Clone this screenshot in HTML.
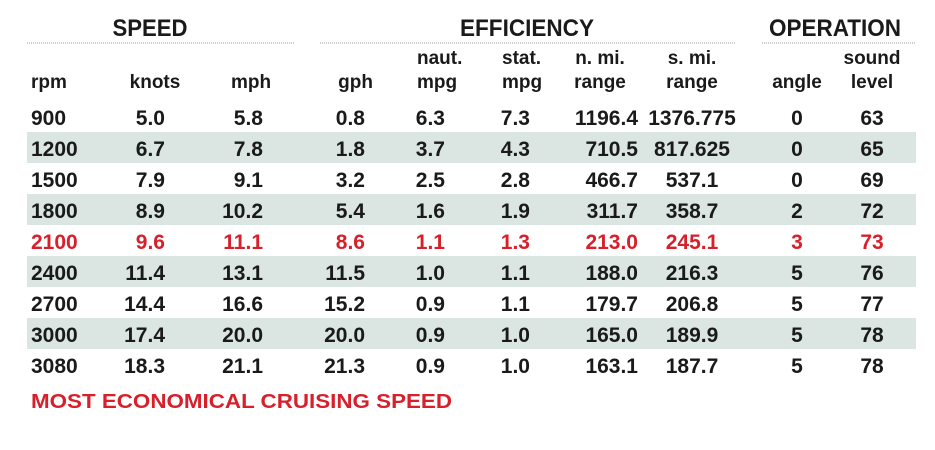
<!DOCTYPE html>
<html><head><meta charset="utf-8"><style>
html,body{margin:0;padding:0;background:#fff;width:935px;height:450px;overflow:hidden}
svg{display:block;font-family:"Liberation Sans",sans-serif;font-weight:bold}
</style></head><body>
<svg id="tbl" width="935" height="450" viewBox="0 0 935 450">
<g font-size="24" fill="#1a1a1a">
<text x="150" y="36" text-anchor="middle" textLength="75" lengthAdjust="spacingAndGlyphs">SPEED</text>
<text x="527" y="36" text-anchor="middle" textLength="134" lengthAdjust="spacingAndGlyphs">EFFICIENCY</text>
<text x="835" y="36" text-anchor="middle" textLength="132" lengthAdjust="spacingAndGlyphs">OPERATION</text>
</g>
<g stroke="#999" stroke-width="1" stroke-dasharray="1,1">
<line x1="27" y1="43" x2="295" y2="43"/>
<line x1="320" y1="43" x2="735" y2="43"/>
<line x1="762" y1="43" x2="916" y2="43"/>
</g>
<g id="bands"></g>
<g id="heads" font-size="19" fill="#1a1a1a"></g>
<g id="cells" font-size="21"></g>
<text x="31" y="408" font-size="20" fill="#d7202b" textLength="421" lengthAdjust="spacingAndGlyphs">MOST ECONOMICAL CRUISING SPEED</text>
</svg>
<script>
const rpm=["900","1200","1500","1800","2100","2400","2700","3000","3080"];
const knots=["5.0","6.7","7.9","8.9","9.6","11.4","14.4","17.4","18.3"];
const mph=["5.8","7.8","9.1","10.2","11.1","13.1","16.6","20.0","21.1"];
const gph=["0.8","1.8","3.2","5.4","8.6","11.5","15.2","20.0","21.3"];
const nautMpg=["6.3","3.7","2.5","1.6","1.1","1.0","0.9","0.9","0.9"];
const statMpg=["7.3","4.3","2.8","1.9","1.3","1.1","1.1","1.0","1.0"];
const nmiRange=["1196.4","710.5","466.7","311.7","213.0","188.0","179.7","165.0","163.1"];
const smiRange=["1376.775","817.625","537.1","358.7","245.1","216.3","206.8","189.9","187.7"];
const angle=["0","0","0","2","3","5","5","5","5"];
const sound=["63","65","69","72","73","76","77","78","78"];
const highlightRow=4;
const NS="http://www.w3.org/2000/svg";
const cols=[
 {n:"rpm",d:rpm,x:31,a:"start",h:["","rpm"],hx:31,ha:"start"},
 {n:"knots",d:knots,x:165,a:"end",h:["","knots"],hx:155,ha:"middle"},
 {n:"mph",d:mph,x:263,a:"end",h:["","mph"],hx:251,ha:"middle"},
 {n:"gph",d:gph,x:365,a:"end",h:["","gph"],hx:373,ha:"end"},
 {n:"naut-mpg",d:nautMpg,x:445,a:"end",h:["naut.","mpg"],hx:417,ha:"start"},
 {n:"stat-mpg",d:statMpg,x:530,a:"end",h:["stat.","mpg"],hx:502,ha:"start"},
 {n:"nmi-range",d:nmiRange,x:638,a:"end",h:["n. mi.","range"],hx:600,ha:"middle"},
 {n:"smi-range",d:smiRange,x:692,a:"middle",h:["s. mi.","range"],hx:692,ha:"middle"},
 {n:"angle",d:angle,x:797,a:"middle",h:["","angle"],hx:797,ha:"middle"},
 {n:"sound-level",d:sound,x:872,a:"middle",h:["sound","level"],hx:872,ha:"middle"}
];
const bands=document.getElementById('bands'),heads=document.getElementById('heads'),cells=document.getElementById('cells');
const base0=125,pitch=31;
rpm.forEach((r,i)=>{
 if(i%2===1){
  const b=document.createElementNS(NS,'rect');
  
  
  b.setAttribute('x',27);b.setAttribute('y',base0+i*pitch-24);
  b.setAttribute('width',889);b.setAttribute('height',31);
  b.setAttribute('fill','#dbe6e3');bands.appendChild(b);
 }
});
cols.forEach(c=>{
 c.h.forEach((t,k)=>{
  if(!t)return;
  const e=document.createElementNS(NS,'text');
  
  
  e.setAttribute('x',c.hx);e.setAttribute('y',k?88:64);
  e.setAttribute('text-anchor',c.ha);e.textContent=t;heads.appendChild(e);
 });
 c.d.forEach((v,i)=>{
  const e=document.createElementNS(NS,'text');
  
  
  e.setAttribute('x',c.x);e.setAttribute('y',base0+i*pitch);
  e.setAttribute('text-anchor',c.a);
  e.setAttribute('fill',i===highlightRow?'#d7202b':'#1a1a1a');
  e.textContent=v;cells.appendChild(e);
 });
});
</script>
</body></html>
